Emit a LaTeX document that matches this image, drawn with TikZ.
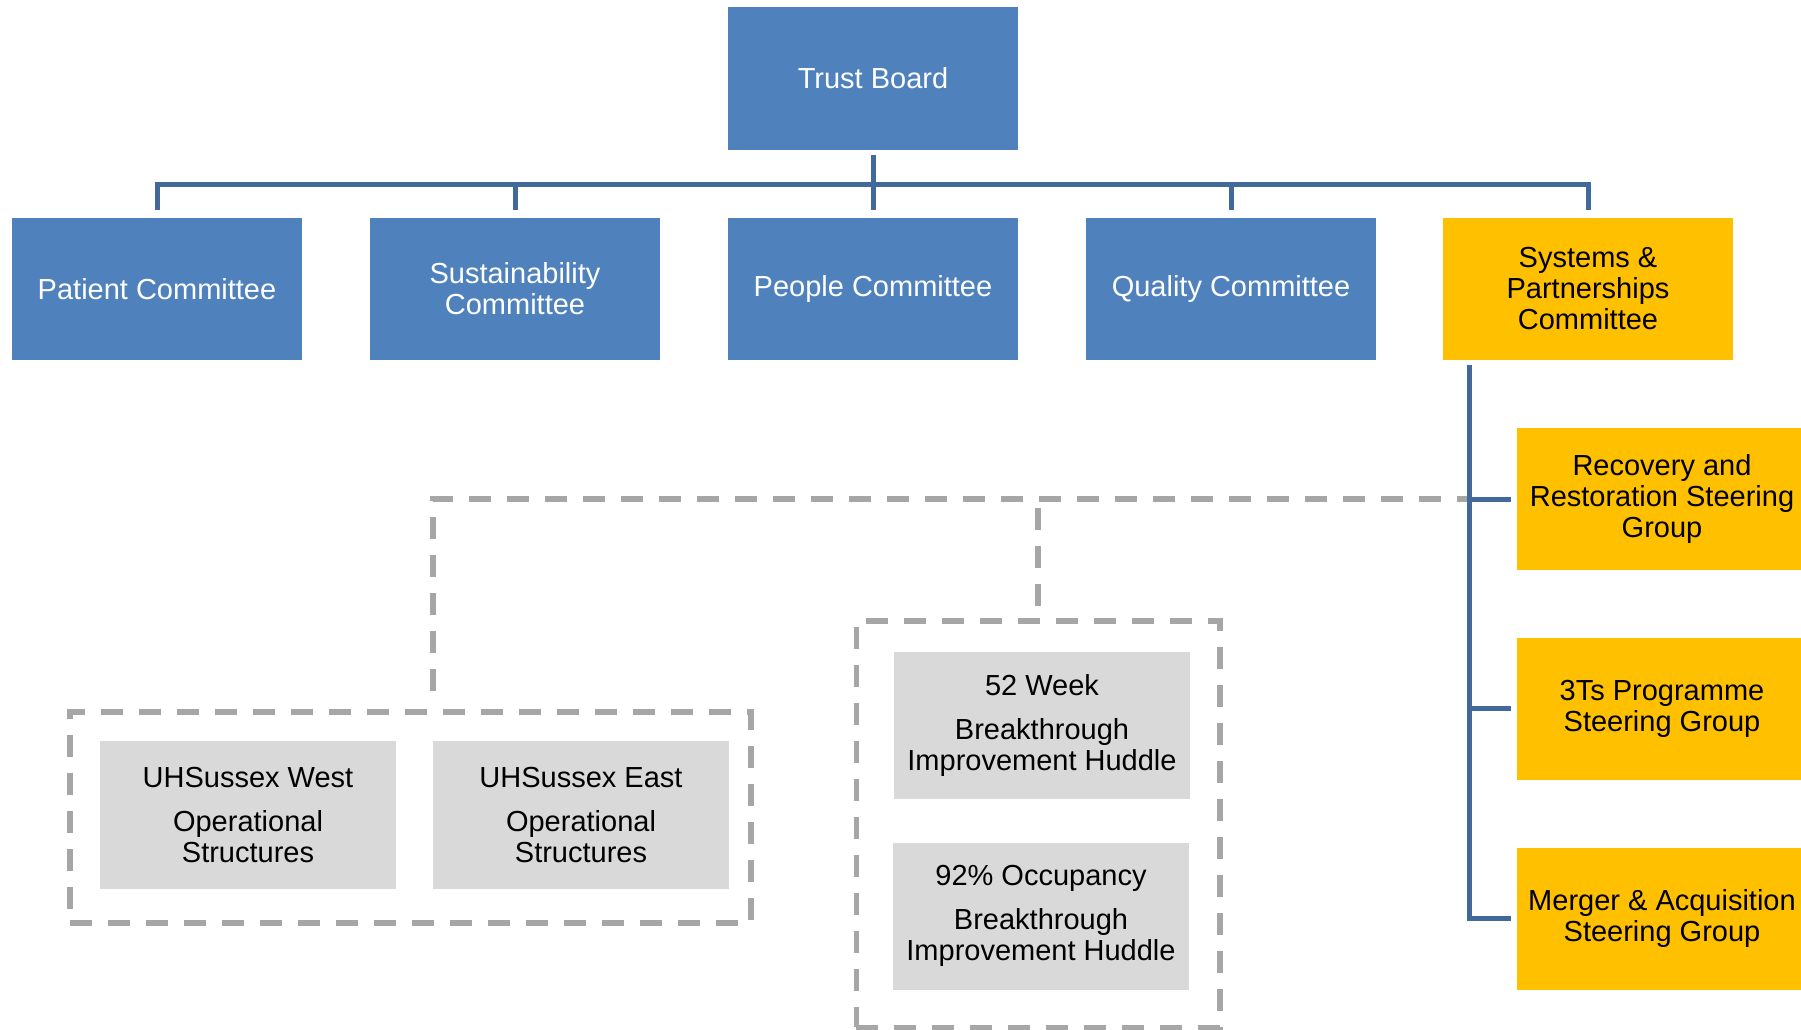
\documentclass[tikz,border=0pt]{standalone}
\usepackage{fontspec}
\setmainfont{Liberation Sans}
\definecolor{cblue}{HTML}{4F81BD}
\definecolor{corange}{HTML}{FFC000}
\definecolor{cgrey}{HTML}{D9D9D9}
\definecolor{cdash}{HTML}{A6A6A6}
\definecolor{cline}{HTML}{41699C}
\begin{document}
\begin{tikzpicture}[x=1pt,y=-1pt,
  txt/.style={inner sep=0pt, align=center, font=\fontsize{29}{31}\selectfont},
  bluebox/.style={txt, fill=cblue, text=white, minimum width=290pt, minimum height=142pt},
  orangebox/.style={txt, fill=corange, text=black, minimum width=290pt, minimum height=142pt},
  greybox/.style={txt, fill=cgrey, text=black, minimum width=296pt, minimum height=148pt},
  grpbox/.style={draw=cdash, line width=5.5pt, dash pattern=on 22pt off 16pt, inner sep=0pt},
  conn/.style={draw=cline, line width=5pt},
  grpdash/.style={draw=cdash, line width=5.5pt, dash pattern=on 22pt off 16pt},
]
\useasboundingbox (0,0) rectangle (1801,1030);
% top level
\node[bluebox, minimum height=143pt] (tb) at (873,78.5) {Trust Board};
\node[bluebox] (patient) at (157,289) {Patient Committee};
\node[bluebox] (sust) at (515,289) {Sustainability\\Committee};
\node[bluebox] (people) at (873,289) {People Committee};
\node[bluebox] (quality) at (1231,289) {Quality Committee};
\node[orangebox] (sys) at (1588,289) {Systems \&\\Partnerships\\Committee};
% steering groups
\node[orangebox] (rr) at (1662,499) {Recovery and\\Restoration Steering\\Group};
\node[orangebox] (tts) at (1662,708.5) {3Ts Programme\\Steering Group};
\node[orangebox] (mas) at (1662,918.5) {Merger \& Acquisition\\Steering Group};
% dashed groups
\node[grpbox, minimum width=681pt, minimum height=211pt] (lgrp) at (410.5,817.5) {};
\node[grpbox, minimum width=363.5pt, minimum height=406.5pt] (rgrp) at (1038,824) {};
\node[greybox] (west) at (248,815) {UHSussex West\\[13pt]Operational\\Structures};
\node[greybox] (east) at (581,815) {UHSussex East\\[13pt]Operational\\Structures};
\node[greybox, minimum height=147pt] (wk) at (1042,725) {52 Week\\[13pt]Breakthrough\\Improvement Huddle};
\node[greybox, minimum height=147pt] (occ) at (1041,916) {92\% Occupancy\\[13pt]Breakthrough\\Improvement Huddle};
% connectors
\coordinate (bus) at (873,184);
\coordinate (sysline) at ([xshift=27pt,yshift=-5pt]sys.south west);
\draw[grpdash, shorten <=18pt] (east.west |- lgrp.north) |- (sysline |- rr.west);
\draw[grpdash, shorten <=12pt] (rgrp.north) -- (rgrp.north |- rr.west);
\draw[conn] ([yshift=-5pt]tb.south) -- ([yshift=8pt]people.north);
\foreach \c in {patient,sust,quality,sys}
  \draw[conn] ([yshift=8pt]\c.north) |- (bus);
\draw[conn] (sysline) |- ([xshift=-6pt]mas.west);
\draw[conn] (sysline |- rr.west) -- ([xshift=-6pt]rr.west);
\draw[conn] (sysline |- tts.west) -- ([xshift=-6pt]tts.west);
\end{tikzpicture}
\end{document}
